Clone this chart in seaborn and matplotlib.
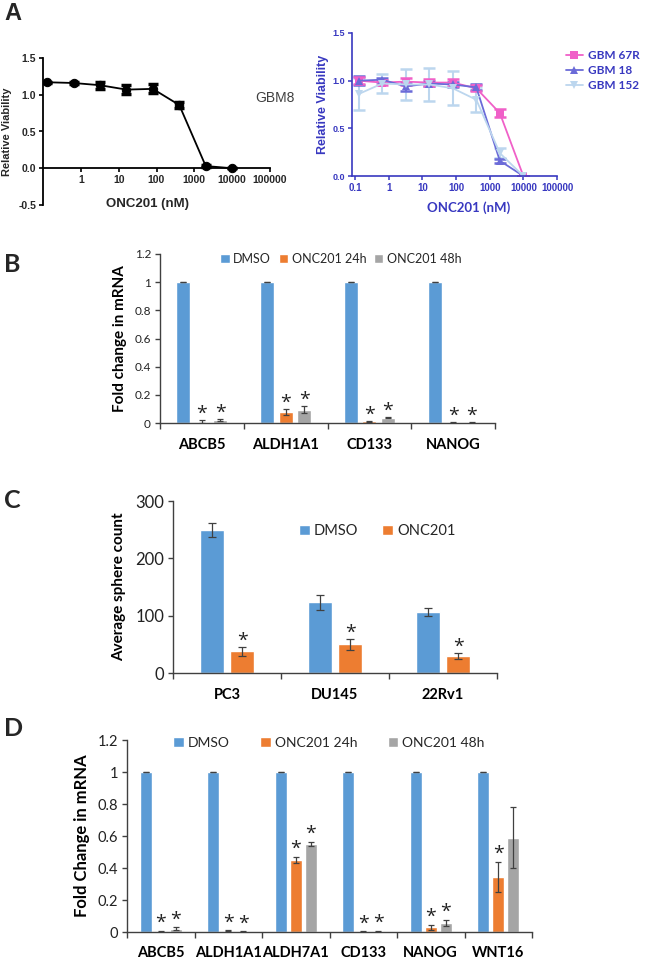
import numpy as np
import pandas as pd
import matplotlib
matplotlib.use('Agg')
import matplotlib.pyplot as plt
import seaborn as sns
from matplotlib.ticker import FixedLocator, FixedFormatter, NullLocator
from matplotlib.container import BarContainer

sns.set_theme(style='white')
plt.rcParams['font.family'] = ['Liberation Sans', 'DejaVu Sans']

# ---------------- data ----------------
conc = [0.128, 0.64, 3.2, 16, 80, 400, 2000, 10000]
gbm8 = [1.17, 1.16, 1.13, 1.07, 1.08, 0.86, 0.03, 0.0]
gbm8_err = [0.01, 0.01, 0.05, 0.06, 0.06, 0.04, 0.01, 0.0]

gbm67r = [1.0, 0.98, 0.99, 0.98, 0.98, 0.92, 0.66, 0.0]
gbm67r_err = [0.04, 0.03, 0.04, 0.04, 0.04, 0.03, 0.04, 0.0]
gbm18 = [1.0, 1.01, 0.94, 0.97, 0.96, 0.93, 0.16, 0.0]
gbm18_err = [0.05, 0.02, 0.05, 0.03, 0.03, 0.03, 0.02, 0.0]
gbm152 = [0.86, 0.97, 0.96, 0.96, 0.92, 0.80, 0.24, 0.0]
gbm152_err = [0.17, 0.10, 0.16, 0.17, 0.18, 0.13, 0.05, 0.0]
lines_a = ['GBM 67R', 'GBM 18', 'GBM 152']

conds3 = ['DMSO', 'ONC201 24h', 'ONC201 48h']
genes_b = ['ABCB5', 'ALDH1A1', 'CD133', 'NANOG']
b_dmso = [1.0, 1.0, 1.0, 1.0]
b_24 = [0.01, 0.08, 0.012, 0.003]
b_48 = [0.02, 0.095, 0.038, 0.006]
b_dmso_err = [0.002, 0.002, 0.002, 0.002]
b_24_err = [0.008, 0.02, 0.004, 0.002]
b_48_err = [0.005, 0.025, 0.003, 0.003]
b_24_sig = [1, 1, 1, 1]
b_48_sig = [1, 1, 1, 1]

conds2 = ['DMSO', 'ONC201']
lines_c = ['PC3', 'DU145', '22Rv1']
c_dmso = [250, 123, 107]
c_dmso_err = [12, 13, 7]
c_onc = [38, 50, 30]
c_onc_err = [8, 10, 5]
c_onc_sig = [1, 1, 1]

genes_d = ['ABCB5', 'ALDH1A1', 'ALDH7A1', 'CD133', 'NANOG', 'WNT16']
d_dmso = [1.0, 1.0, 1.0, 1.0, 1.0, 1.0]
d_24 = [0.005, 0.008, 0.45, 0.003, 0.03, 0.345]
d_48 = [0.02, 0.003, 0.55, 0.006, 0.057, 0.59]
d_dmso_err = [0.002] * 6
d_24_err = [0.003, 0.003, 0.02, 0.002, 0.015, 0.095]
d_48_err = [0.01, 0.002, 0.015, 0.003, 0.02, 0.19]
d_24_sig = [1, 1, 1, 1, 1, 1]
d_48_sig = [1, 1, 1, 1, 1, 0]

BLUE, ORANGE, GREY = '#5B9BD5', '#ED7D31', '#A5A5A5'
AXBLUE = '#3838c0'
SERIES_COL = {'GBM 67R': '#f060c8', 'GBM 18': '#6b6bd8', 'GBM 152': '#bcd6ee'}
SERIES_MK = {'GBM 67R': 's', 'GBM 18': '^', 'GBM 152': 'v'}
CAL = ['Lato', 'DejaVu Sans']

W, H = 646, 960
fig = plt.figure(figsize=(W / 100, H / 100), dpi=100)


def axpx(l, t, r, b):
    return fig.add_axes([l / W, 1 - b / H, (r - l) / W, (b - t) / H])


def fx(x):
    return x / W


def fy(y):
    return 1 - y / H


# ---------------- Panel A left ----------------
axA = axpx(43, 58, 270, 205)
axA.set_xscale('log')
dfA = pd.DataFrame({'conc': conc, 'via': gbm8})
sns.lineplot(data=dfA, x='conc', y='via', ax=axA, color='black', marker='o',
             markersize=6, linewidth=1.3, markeredgecolor='black')
axA.errorbar(conc, gbm8, yerr=gbm8_err, fmt='none', ecolor='black',
             elinewidth=2.5, capsize=3.5, capthick=2.5)
axA.set_xlim(0.1, 100000)
axA.set_ylim(-0.5, 1.5)
for s in ['top', 'right']:
    axA.spines[s].set_visible(False)
axA.spines['bottom'].set_position(('data', 0))
for s in ['left', 'bottom']:
    axA.spines[s].set_color('black')
    axA.spines[s].set_linewidth(1.3)
xt = [1, 10, 100, 1000, 10000, 100000]
axA.xaxis.set_major_locator(FixedLocator(xt))
axA.xaxis.set_major_formatter(FixedFormatter([str(v) for v in xt]))
axA.xaxis.set_minor_locator(NullLocator())
axA.set_yticks([-0.5, 0, 0.5, 1.0, 1.5])
axA.set_yticklabels(['-0.5', '0.0', '0.5', '1.0', '1.5'])
axA.tick_params(axis='both', direction='out', length=3, width=1.2, color='black',
                labelsize=7.5, pad=2, bottom=True, left=True)
for lab in axA.get_xticklabels() + axA.get_yticklabels():
    lab.set_fontweight('bold')
axA.set_xlabel('ONC201 (nM)', fontsize=9.5, fontweight='bold')
axA.xaxis.set_label_coords(0.46, 0.05)
axA.set_ylabel('Relative Viability', fontsize=8, fontweight='bold')
axA.yaxis.set_label_coords(-0.135, 0.5)
fig.text(fx(255), fy(98), 'GBM8', fontsize=10, color='#404040', va='center', ha='left')

# ---------------- Panel A right ----------------
axR = axpx(352, 33, 557, 176)
axR.set_xscale('log')
dfR = pd.DataFrame({
    'conc': conc * 3,
    'via': gbm67r + gbm18 + gbm152,
    'line': [lines_a[0]] * 8 + [lines_a[1]] * 8 + [lines_a[2]] * 8,
})
errs_R = {'GBM 67R': gbm67r_err, 'GBM 18': gbm18_err, 'GBM 152': gbm152_err}
vals_R = {'GBM 67R': gbm67r, 'GBM 18': gbm18, 'GBM 152': gbm152}
for name in ['GBM 152', 'GBM 18', 'GBM 67R']:
    axR.errorbar(conc, vals_R[name], yerr=errs_R[name], fmt='none',
                 ecolor=SERIES_COL[name], elinewidth=1.5, capsize=4, capthick=1.8)
sns.lineplot(data=dfR, x='conc', y='via', hue='line', style='line',
             hue_order=lines_a, style_order=lines_a,
             palette=SERIES_COL, markers=SERIES_MK, dashes=False,
             markersize=6, linewidth=1.3, markeredgewidth=0, ax=axR)
axR.set_xlim(0.081, 100000)
axR.set_ylim(0, 1.5)
for s in ['top', 'right']:
    axR.spines[s].set_visible(False)
for s in ['left', 'bottom']:
    axR.spines[s].set_color(AXBLUE)
    axR.spines[s].set_linewidth(1.2)
xt2 = [0.1, 1, 10, 100, 1000, 10000, 100000]
axR.xaxis.set_major_locator(FixedLocator(xt2))
axR.xaxis.set_major_formatter(FixedFormatter(['0.1', '1', '10', '100', '1000', '10000', '100000']))
axR.xaxis.set_minor_locator(NullLocator())
axR.set_yticks([0, 0.5, 1.0, 1.5])
axR.set_yticklabels(['0.0', '0.5', '1.0', '1.5'])
axR.tick_params(axis='both', direction='out', length=3, width=1.1, color=AXBLUE,
                labelcolor=AXBLUE, pad=2, bottom=True, left=True)
axR.tick_params(axis='x', labelsize=7)
axR.tick_params(axis='y', labelsize=6.5)
for lab in axR.get_xticklabels() + axR.get_yticklabels():
    lab.set_fontweight('bold')
axR.set_xlabel('ONC201 (nM)', fontsize=9.5, fontweight='bold', color=AXBLUE, family=CAL)
axR.xaxis.set_label_coords(0.57, -0.18)
axR.set_ylabel('Relative Viability', fontsize=9, fontweight='bold', color=AXBLUE)
axR.yaxis.set_label_coords(-0.11, 0.5)
leg = axR.legend(loc='upper left', bbox_to_anchor=(fx(566), fy(50)),
                 bbox_transform=fig.transFigure, frameon=False, title=None,
                 prop={'family': CAL, 'weight': 'bold', 'size': 8.5},
                 handlelength=1.4, handletextpad=0.5, labelspacing=0.35,
                 borderpad=0, borderaxespad=0)
for t in leg.get_texts():
    t.set_color(AXBLUE)


# ---------------- Bar panels ----------------
def bar_panel(rect, cats, conds, vals, errs, sigs, colors, ylim, yticks, yticklabels,
              width, gap, ylabel, ylabel_x, tick_fs, cat_fs, cat_pad, ylab_fs,
              leg_center, leg_fs, colsp, star_off, cap):
    ax = axpx(*rect)
    n = len(cats)
    df = pd.DataFrame({
        'cat': [c for _ in conds for c in cats],
        'cond': [cd for cd in conds for _ in cats],
        'val': [v for vs in vals for v in vs],
    })
    sns.barplot(data=df, x='cat', y='val', hue='cond', order=cats, hue_order=conds,
                palette=colors, width=width, gap=gap, errorbar=None, saturation=1,
                ax=ax)
    bars = [c for c in ax.containers if isinstance(c, BarContainer)]
    for ci, cont in enumerate(bars):
        xs = [b.get_x() + b.get_width() / 2 for b in cont.patches]
        ax.errorbar(xs, vals[ci], yerr=errs[ci], fmt='none', ecolor='#404040',
                    elinewidth=0.9, capsize=cap, capthick=0.9)
        if sigs[ci] is not None:
            for x, v, e, s in zip(xs, vals[ci], errs[ci], sigs[ci]):
                if s:
                    ax.annotate('*', xy=(x, v + e), xytext=(0, star_off),
                                textcoords='offset points', ha='center', va='bottom',
                                fontsize=14, family=['Open Sans', 'DejaVu Sans'],
                                color='#222222')
    ax.set_xlim(-0.5, n - 0.5)
    ax.set_ylim(*ylim)
    for s in ['top', 'right']:
        ax.spines[s].set_visible(False)
    for s in ['left', 'bottom']:
        ax.spines[s].set_color('#404040')
        ax.spines[s].set_linewidth(1.0)
    ax.set_xticks(range(n))
    ax.set_xticklabels(cats, fontsize=cat_fs, fontweight='bold', family=CAL)
    ax.xaxis.set_minor_locator(FixedLocator(np.arange(-0.5, n, 1.0)))
    ax.tick_params(axis='x', which='major', length=0, pad=cat_pad, labelcolor='black')
    ax.tick_params(axis='x', which='minor', length=4, width=1.0, color='#404040',
                   direction='out', bottom=True)
    ax.set_yticks(yticks)
    ax.set_yticklabels(yticklabels, fontsize=tick_fs, family=CAL)
    ax.tick_params(axis='y', length=3.5, width=1.0, color='#404040', direction='out',
                   left=True, pad=3, labelcolor='#222222')
    ax.set_xlabel('')
    ax.set_ylabel(ylabel, fontsize=ylab_fs, fontweight='bold', family=CAL, color='black')
    ax.yaxis.set_label_coords(ylabel_x, 0.5)
    sns.move_legend(ax, 'center', bbox_to_anchor=(fx(leg_center[0]), fy(leg_center[1])),
                    bbox_transform=fig.transFigure, ncol=len(conds), frameon=False,
                    title=None, prop={'family': CAL, 'size': leg_fs},
                    handlelength=0.75, handleheight=0.75, handletextpad=0.3,
                    columnspacing=colsp, borderpad=0)
    return ax


bar_panel((160, 254, 495, 423), genes_b, conds3,
          [b_dmso, b_24, b_48], [b_dmso_err, b_24_err, b_48_err],
          [None, b_24_sig, b_48_sig], [BLUE, ORANGE, GREY],
          (0, 1.2), [0, 0.2, 0.4, 0.6, 0.8, 1.0, 1.2],
          ['0', '0.2', '0.4', '0.6', '0.8', '1', '1.2'],
          0.66, 0.24, 'Fold change in mRNA', -0.098, 8.5, 10.5, 11, 11,
          (341, 259), 9, 0.6, -2, 2.2)

bar_panel((173, 501, 497, 673), lines_c, conds2,
          [c_dmso, c_onc], [c_dmso_err, c_onc_err],
          [None, c_onc_sig], [BLUE, ORANGE],
          (0, 300), [0, 100, 200, 300], ['0', '100', '200', '300'],
          0.56, 0.2, 'Average sphere count', -0.145, 12, 10.5, 11, 11,
          (377, 531), 10.5, 1.6, -2, 3)

bar_panel((127, 740, 532, 932), genes_d, conds3,
          [d_dmso, d_24, d_48], [d_dmso_err, d_24_err, d_48_err],
          [None, d_24_sig, d_48_sig], [BLUE, ORANGE, GREY],
          (0, 1.2), [0, 0.2, 0.4, 0.6, 0.8, 1.0, 1.2],
          ['0', '0.2', '0.4', '0.6', '0.8', '1', '1.2'],
          0.667, 0.2, 'Fold Change in mRNA', -0.091, 10.5, 10.5, 10, 12,
          (329, 743), 10, 2.2, -1, 2.5)

# panel letters
fig.text(fx(4), fy(13), 'A', fontsize=17, fontweight='bold', va='center', ha='left')
for letter, y in [('B', 264), ('C', 501), ('D', 729)]:
    fig.text(fx(4), fy(y), letter, fontsize=18, fontweight='bold', va='center', ha='left',
             family=CAL)

fig.savefig('out.png', dpi=100)
